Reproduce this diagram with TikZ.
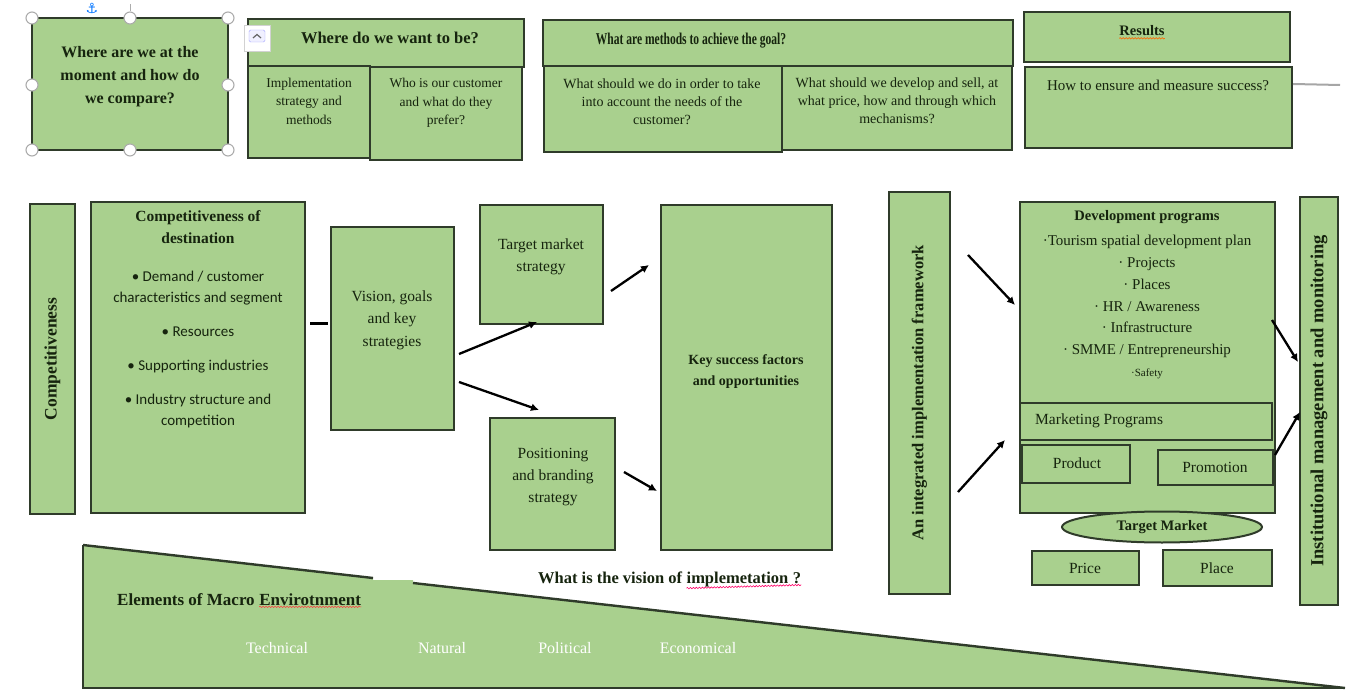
\documentclass[tikz,border=0pt]{standalone}
\usepackage{fontspec}
\setmainfont{Liberation Serif}
\newfontfamily\carl{Carlito}
\newfontfamily\cond[FakeStretch=0.7]{Liberation Serif}
\newfontfamily\symf{DejaVu Sans}
\usetikzlibrary{shapes.geometric,arrows.meta,decorations.pathmorphing,fit}
\definecolor{gfill}{HTML}{A9D08E}
\definecolor{gline}{HTML}{2F3B2A}
\definecolor{tcol}{HTML}{16240E}
\newcommand\fs[2]{\fontsize{#1}{#2}\selectfont}
\newcommand\bx[5]{\node[box,fit={(#2,#3) (#4,#5)}] (#1) {};}
\begin{document}
\begin{tikzpicture}[x=1pt,y=-1pt,
  box/.style={draw=gline, fill=gfill, line width=2pt, inner sep=0pt},
  txt/.style={text=tcol, inner sep=0pt, align=center},
  arr/.style={-{Latex[length=8pt,width=8pt]}, line width=2.3pt, black},
  handle/.style={circle, draw=gray!65, fill=white, line width=1.1pt, minimum size=12pt, inner sep=0pt},
  squig/.style={decorate, decoration={snake, amplitude=0.7pt, segment length=3pt}, red!75, line width=0.6pt}
]
\useasboundingbox (0,0) rectangle (1350,690);

% ---------- top row ----------
\bx{q1}{32}{18}{228}{150}
\node[txt, font=\bfseries\fs{16}{23}] (q1t) at (130,77) {Where are we at the\\moment and how do\\we compare?};
\foreach \x/\y/\n in {32/18/h1,130/18/h2,228/18/h3,32/85/h4,228/85/h5,32/150/h6,130/150/h7,228/150/h8}
  \node[handle] (\n) at (\x,\y) {};
\coordinate (rot) at (130,4);
\draw[gray!65, line width=0.8pt] (rot) -- (h2.north);
\node[text=blue!55!cyan, font=\symf\fs{14}{14}, inner sep=0pt] (anch) at (92,8) {⚓};

\bx{q2h}{248}{19}{524}{67}
\node[txt, font=\bfseries\fs{16.5}{20}] (q2ht) at (390,38) {Where do we want to be?};
\bx{q2a}{248}{66}{370}{158}
\node[txt, font=\fs{13.5}{18.5}] (q2at) at (309,101) {Implementation\\strategy and\\methods};
\bx{q2b}{370}{67}{522}{160}
\node[txt, font=\fs{13.5}{18.5}] (q2bt) at (446,103) {Who is our customer\\and what do they\\prefer?};
\node[draw=gray!35, fill=white, minimum width=26pt, minimum height=26pt, inner sep=0pt] (lay) at (257,38) {};
\node[draw=blue!35, fill=blue!6, rounded corners=1.5pt, minimum width=16pt, minimum height=12pt, inner sep=0pt] (layi) at (257,36) {};
\draw[gray!80!black, line width=1.2pt] ([xshift=-4pt,yshift=-2pt]layi.center) -- ([yshift=1.5pt]layi.center) -- ([xshift=4pt,yshift=-2pt]layi.center);

\bx{q3h}{543}{20}{1013}{66}
\node[txt, font=\cond\bfseries\fs{16.5}{18}] (q3ht) at (691,41) {What are methods to achieve the goal?};
\bx{q3a}{544}{66}{782}{152}
\node[txt, font=\fs{14}{18}] (q3at) at (662,102) {What should we do in order to take\\into account the needs of the\\customer?};
\bx{q3b}{782}{66}{1012}{150}
\node[txt, font=\fs{14}{18}] (q3bt) at (897,101) {What should we develop and sell, at\\what price, how and through which\\mechanisms?};

\bx{r1}{1024}{12}{1290}{62}
\node[txt, font=\bfseries\fs{14.5}{18}] (r1t) at (1142,31) {Results};
\draw[squig, orange!80!red] ([yshift=-2pt]r1t.south west) -- ([yshift=-2pt]r1t.south east);
\bx{r2}{1025}{67}{1292}{148}
\node[txt, font=\fs{15}{18}] (r2t) at (1158,85) {How to ensure and measure success?};
\coordinate (rr) at (1340,85);
\draw[gray!70, line width=2pt] ([yshift=-18pt]r2.north east) -- (rr);

% ---------- middle ----------
\bx{comp}{30}{204}{75}{514}
\node[txt, font=\bfseries\fs{17.5}{18}, rotate=90] (compt) at (comp.center) {Competitiveness};
\bx{cod}{91}{202}{305}{513}
\node[txt, font=\bfseries\fs{15.5}{22}] (codt) at (198,227) {Competitiveness of\\destination};
\node[txt, font=\carl\fs{15}{21}] (codl) at (198,349) {• Demand / customer\\characteristics and segment\\[13pt]• Resources\\[13pt]• Supporting industries\\[13pt]• Industry structure and\\competition};
\bx{vis}{331}{227}{454}{430}
\node[txt, font=\fs{15.5}{22.5}] (vist) at (392,320) {Vision, goals\\and key\\strategies};
\coordinate (la) at (310,323);
\coordinate (lb) at (328,323);
\draw[line width=3pt] (la) -- (lb);
\bx{tms}{480}{205}{603}{324}
\node[txt, font=\fs{15.5}{22}] (tmst) at (541,257) {Target market\\strategy};
\bx{pbs}{490}{418}{615}{550}
\node[txt, font=\fs{15.5}{22}] (pbst) at (553,477) {Positioning\\and branding\\strategy};
\bx{ksf}{661}{205}{832}{550}
\node[txt, font=\bfseries\fs{14}{21}] (ksft) at (746,372) {Key success factors\\and opportunities};

\coordinate (a1s) at (459,354); \coordinate (a1e) at (537,322);
\coordinate (a2s) at (459,382); \coordinate (a2e) at (539,410);
\coordinate (a3s) at (611,291); \coordinate (a3e) at (649,265);
\coordinate (a4s) at (624,472); \coordinate (a4e) at (657,491);
\draw[arr] (a1s) -- (a1e);
\draw[arr] (a2s) -- (a2e);
\draw[arr] (a3s) -- (a3e);
\draw[arr] (a4s) -- (a4e);

\bx{iif}{889}{192}{950}{594}
\node[txt, font=\bfseries\fs{16.5}{18}, rotate=90] (iift) at (iif.center) {An integrated implementation framework};

\bx{dev}{1020}{202}{1275}{513}
\node[txt, font=\bfseries\fs{14.5}{18}] (devt) at (1147,217) {Development programs};
\node[txt, font=\fs{15}{21.8}] (devl) at (1147,307) {·Tourism spatial development plan\\· Projects\\· Places\\· HR / Awareness\\· Infrastructure\\· SMME / Entrepreneurship\\{\fs{11}{12}·Safety}};
\bx{mkt}{1020}{403}{1272}{440}
\node[txt, font=\fs{15.5}{18}, anchor=west] (mktt) at (1035,421) {Marketing Programs};
\bx{prod}{1022}{445}{1130}{483}
\node[txt, font=\fs{15.5}{18}] (prodt) at (1077,463) {Product};
\bx{prom}{1158}{450}{1273}{485}
\node[txt, font=\fs{15.5}{18}] (promt) at (1215,467) {Promotion};
\node[ellipse, draw=gline, fill=gfill, line width=2pt, minimum width=200pt, minimum height=31pt, inner sep=0pt, text=tcol, font=\bfseries\fs{14.5}{18}] (tm) at (1162,527) {Target Market};
\bx{price}{1032}{551}{1139}{585}
\node[txt, font=\fs{15.5}{18}] (pricet) at (1085,568) {Price};
\bx{place}{1163}{550}{1272}{586}
\node[txt, font=\fs{15.5}{18}] (placet) at (1217,568) {Place};

\bx{imm}{1300}{197}{1338}{605}
\node[txt, font=\bfseries\fs{18.5}{18}, rotate=90] (immt) at (imm.center) {Institutional management and monitoring};

\coordinate (b1s) at (968,255); \coordinate (b1e) at (1015,305);
\coordinate (b2s) at (958,492); \coordinate (b2e) at (1005,440);
\coordinate (b3s) at (1272,320); \coordinate (b3e) at (1298,362);
\coordinate (b4s) at (1275,455); \coordinate (b4e) at (1300,412);
\draw[arr] (b1s) -- (b1e);
\draw[arr] (b2s) -- (b2e);
\draw[arr] (b3s) -- (b3e);
\draw[arr] (b4s) -- (b4e);

% ---------- bottom wedge ----------
\coordinate (w1) at (83,545);
\coordinate (w2) at (373,578);
\coordinate (w3) at (413,583);
\coordinate (w4) at (1345,688);
\coordinate (w5) at (83,688);
\fill[gfill] (w1) -- (w2) -- (373,580) -- (413,580) -- (w3) -- (w4) -- (w5) -- cycle;
\draw[gline, line width=2.4pt] (w1) -- (w2);
\draw[gline, line width=2.4pt] (w3) -- (w4);
\draw[gline, line width=2.4pt] (w4) -- (w5) -- (w1);

\node[txt, font=\bfseries\fs{17}{20}, anchor=base west] (el1) at (117,605) {Elements of Macro\ };
\node[txt, font=\bfseries\fs{17}{20}, anchor=base west] (el2) at (el1.base east) {Envirotnment};
\draw[squig] ([yshift=-1.5pt]el2.south west) -- ([yshift=-1.5pt]el2.south east);

\node[txt, font=\bfseries\fs{16.5}{20}, anchor=base west] (vq1) at (538,583) {What is the vision of\ };
\node[txt, font=\bfseries\fs{16.5}{20}, anchor=base west] (vq2) at (vq1.base east) {implemetation};
\node[txt, font=\bfseries\fs{16.5}{20}, anchor=base west] (vq3) at (vq2.base east) {\ ?};
\draw[squig, red!60!magenta] ([yshift=-1.5pt]vq2.south west) -- ([yshift=-1.5pt]vq3.south east);

\foreach \x/\t/\n in {277/Technical/e1, 442/Natural/e2, 565/Political/e3, 698/Economical/e4}
  \node[txt, text=white, font=\fs{16}{18}] (\n) at (\x,648) {\t};
\end{tikzpicture}
\end{document}
